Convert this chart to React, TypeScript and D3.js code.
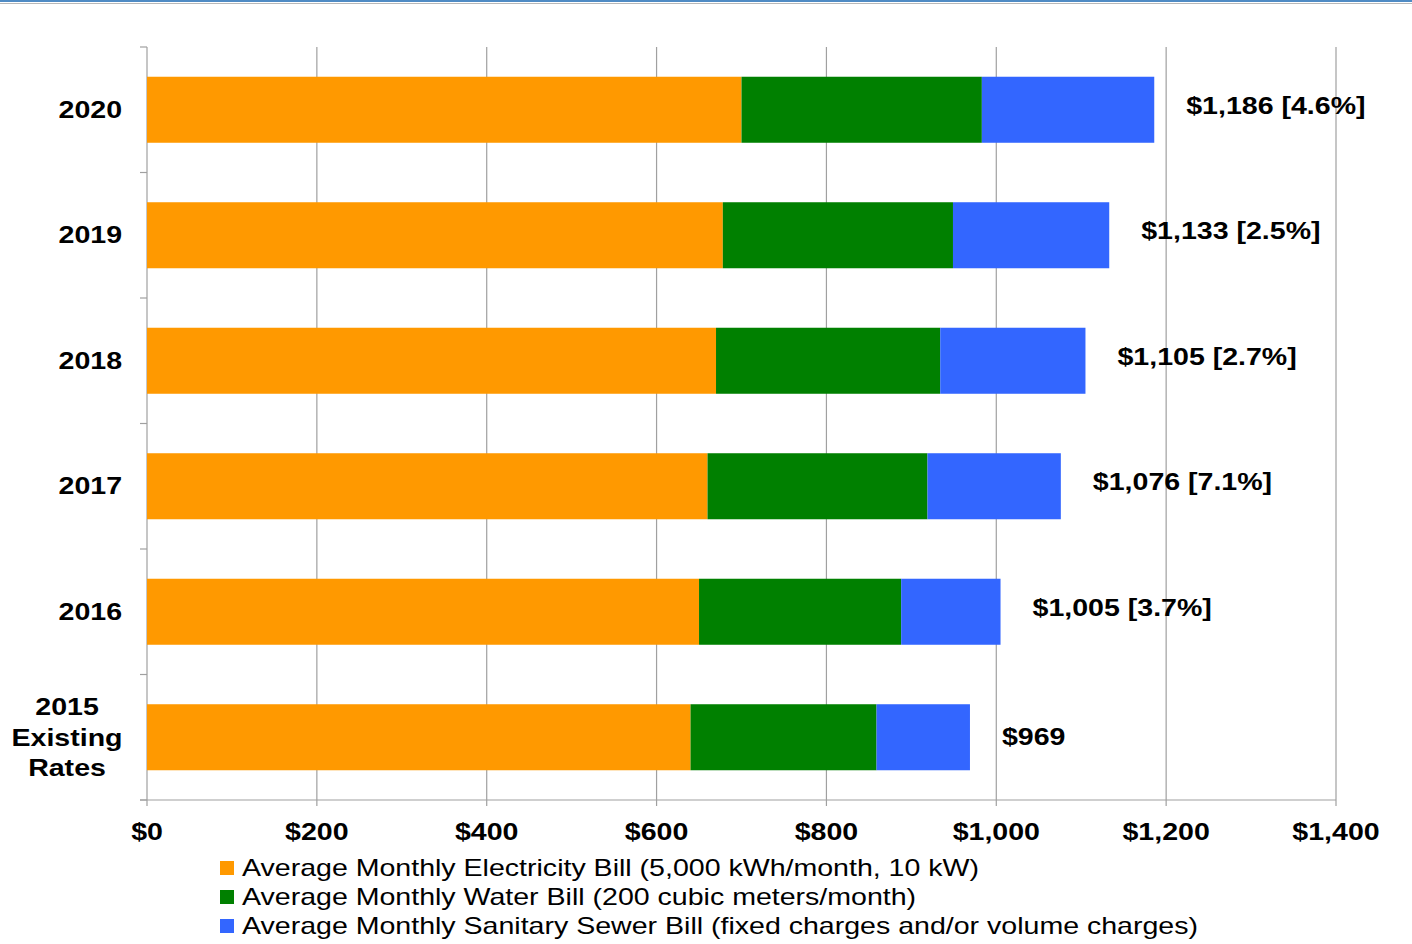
import React from "react";
import * as d3 from "d3";

const categories = ["2020", "2019", "2018", "2017", "2016", "2015 Existing Rates"];
const electricity = [700, 678, 670, 660, 650, 640];
const water = [283, 271, 264, 259, 238, 219];
const sewer = [203, 184, 171, 157, 117, 110];
const totalLabels = ["$1,186 [4.6%]", "$1,133 [2.5%]", "$1,105 [2.7%]", "$1,076 [7.1%]", "$1,005 [3.7%]", "$969"];
const xTicks = [0, 200, 400, 600, 800, 1000, 1200, 1400];
const seriesNames = [
  "Average Monthly Electricity Bill (5,000 kWh/month, 10 kW)",
  "Average Monthly Water Bill (200 cubic meters/month)",
  "Average Monthly Sanitary Sewer Bill (fixed charges and/or volume charges)",
];
const colors = ["#FF9900", "#008000", "#3366FF"];

const SX = 1.19;

function T({ x, y, anchor = "start", bold = false, children }: any) {
  return (
    <g transform={`translate(${x},${y}) scale(${SX},1)`}>
      <text x={0} y={0} textAnchor={anchor} dominantBaseline="central" fontSize={24} fontWeight={bold ? "bold" : "normal"} fill="#000">
        {children}
      </text>
    </g>
  );
}

export default function App() {
  const W = 1412, H = 944;
  const left = 147, right = 1336, top = 47, bottom = 800;
  const x = d3.scaleLinear().domain([0, 1400]).range([left, right]);
  const y = d3.scaleBand().domain(categories).range([top, bottom]).paddingInner(0.474).paddingOuter(0.237);
  const band = (bottom - top) / categories.length;
  const stackData = categories.map((c, i) => ({ cat: c, e: electricity[i], w: water[i], s: sewer[i] }));
  const stack = d3.stack<any>().keys(["e", "w", "s"])(stackData);
  const font = "Liberation Sans, Arial, sans-serif";

  return (
    <svg width={W} height={H} style={{ position: "absolute", left: 0, top: 0, background: "#fff" }} fontFamily={font}>
      <rect x={0} y={0} width={W} height={2} fill="#4F8BC4" />
      <rect x={0} y={3} width={W} height={1} fill="#B8B8B8" />
      {xTicks.map((t) => (
        <g key={t}>
          <line x1={x(t)} x2={x(t)} y1={top} y2={bottom + 6} stroke="#A0A0A0" strokeWidth={1.2} />
          <T x={x(t)} y={832} anchor="middle" bold>{"$" + d3.format(",")(t)}</T>
        </g>
      ))}
      <line x1={left - 7} x2={right} y1={bottom} y2={bottom} stroke="#A0A0A0" strokeWidth={1.2} />
      {d3.range(categories.length + 1).map((i) => (
        <line key={i} x1={left - 7} x2={left} y1={top + i * band} y2={top + i * band} stroke="#A0A0A0" strokeWidth={1.2} />
      ))}
      {stack.map((layer, li) => (
        <g key={li} fill={colors[li]}>
          {layer.map((d, i) => (
            <rect key={i} x={x(d[0])} y={y(categories[i])} width={x(d[1]) - x(d[0])} height={y.bandwidth()} />
          ))}
        </g>
      ))}
      {categories.map((c, i) => {
        const cy = (y(c) as number) + y.bandwidth() / 2;
        const total = electricity[i] + water[i] + sewer[i];
        const dy = i === categories.length - 1 ? 0 : -4;
        return (
          <T key={c} x={x(total) + 32} y={cy + dy} bold>{totalLabels[i]}</T>
        );
      })}
      {categories.map((c, i) => {
        const cy = (y(c) as number) + y.bandwidth() / 2;
        const words = i === categories.length - 1 ? ["2015", "Existing", "Rates"] : [c];
        if (words.length === 1) {
          return <T key={c} x={122} y={cy} anchor="end" bold>{c}</T>;
        }
        return (
          <g key={c}>
            {words.map((w, k) => (
              <T key={k} x={67} y={cy - 30 + k * 30.5} anchor="middle" bold>{w}</T>
            ))}
          </g>
        );
      })}
      {seriesNames.map((n, i) => (
        <g key={n}>
          <rect x={220} y={861 + i * 29} width={14} height={14} fill={colors[i]} />
          <T x={242} y={868 + i * 29}>{n}</T>
        </g>
      ))}
    </svg>
  );
}
